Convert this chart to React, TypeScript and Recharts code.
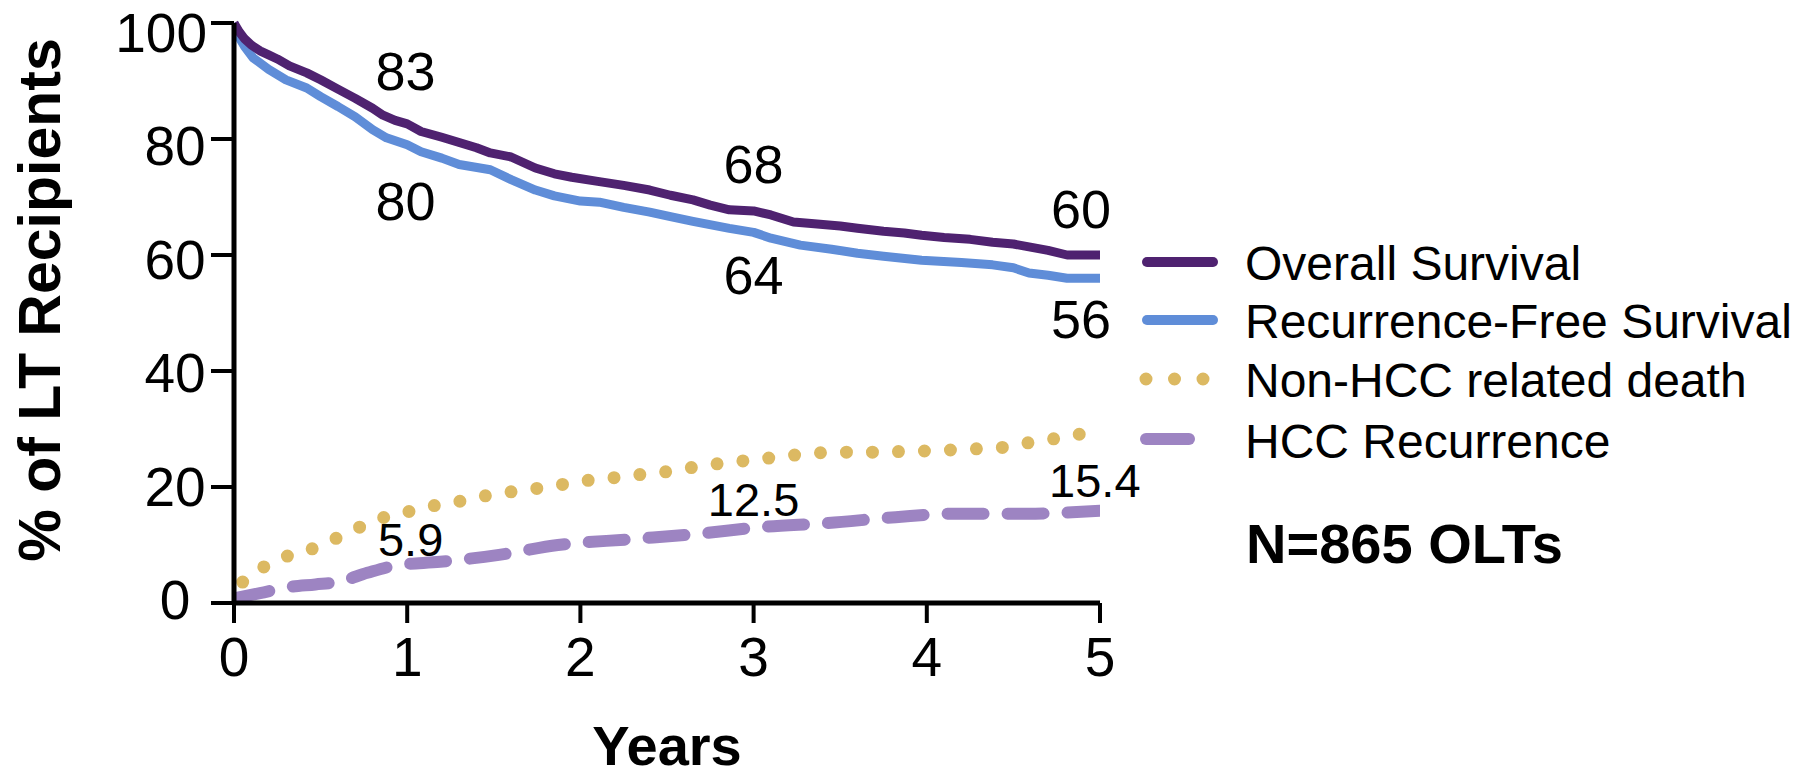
import React from 'react';
import { LineChart, Line, XAxis, YAxis, ReferenceDot } from 'recharts';

const FONT = '"Liberation Sans", Arial, Helvetica, sans-serif';

// Overall survival (Kaplan-Meier)
const osYears = [0, 0.03, 0.06, 0.1, 0.15, 0.2, 0.25, 0.32, 0.42, 0.5, 0.6, 0.7, 0.8, 0.86, 0.93, 1.0, 1.08, 1.2, 1.3, 1.4, 1.48, 1.6, 1.74, 1.85, 1.95, 2.1, 2.25, 2.4, 2.52, 2.65, 2.75, 2.86, 3.0, 3.1, 3.23, 3.35, 3.5, 3.6, 3.75, 3.87, 3.97, 4.1, 4.25, 4.38, 4.5, 4.59, 4.7, 4.81, 5.0];
const osValues = [100, 98.5, 97.3, 96.2, 95.2, 94.5, 93.8, 92.6, 91.4, 90.2, 88.6, 87.0, 85.3, 84.1, 83.2, 82.6, 81.3, 80.3, 79.4, 78.5, 77.6, 76.9, 75.0, 74.0, 73.4, 72.7, 72.0, 71.2, 70.3, 69.5, 68.6, 67.8, 67.6, 66.9, 65.7, 65.4, 65.0, 64.6, 64.1, 63.8, 63.4, 63.0, 62.7, 62.2, 61.9, 61.4, 60.8, 60.0, 60.0];

// Recurrence-free survival
const rfsYears = [0, 0.03, 0.06, 0.11, 0.2, 0.3, 0.42, 0.5, 0.6, 0.7, 0.8, 0.88, 1.0, 1.08, 1.2, 1.3, 1.48, 1.6, 1.74, 1.85, 2.0, 2.11, 2.25, 2.4, 2.52, 2.65, 2.86, 3.0, 3.1, 3.27, 3.45, 3.6, 3.75, 3.97, 4.2, 4.38, 4.5, 4.59, 4.7, 4.81, 5.0];
const rfsValues = [100, 97.5, 96.0, 94.0, 92.0, 90.2, 88.8, 87.3, 85.6, 83.8, 81.6, 80.2, 79.0, 77.8, 76.7, 75.6, 74.7, 73.0, 71.2, 70.2, 69.3, 69.1, 68.2, 67.4, 66.6, 65.8, 64.6, 63.9, 62.9, 61.7, 61.0, 60.3, 59.8, 59.1, 58.7, 58.3, 57.8, 56.9, 56.5, 56.0, 56.0];

// Non-HCC related death (cumulative incidence)
const deathYears = [0.05, 0.16, 0.28, 0.4, 0.53, 0.64, 0.75, 0.87, 1.0, 1.14, 1.28, 1.42, 1.56, 1.71, 1.85, 2.0, 2.14, 2.29, 2.44, 2.59, 2.74, 2.88, 3.03, 3.18, 3.33, 3.5, 3.65, 3.82, 3.98, 4.15, 4.3, 4.46, 4.6, 4.75, 4.9];
const deathValues = [3.6, 6.0, 7.8, 8.8, 10.3, 11.9, 13.4, 14.8, 15.7, 16.7, 17.4, 18.3, 19.0, 19.6, 20.2, 21.0, 21.4, 22.0, 22.4, 23.1, 23.8, 24.3, 24.8, 25.3, 25.8, 26.0, 26.0, 26.1, 26.2, 26.4, 26.6, 26.9, 27.7, 28.4, 29.2];

// HCC recurrence (cumulative incidence)
const hccYears = [0, 0.15, 0.33, 0.47, 0.61, 0.77, 0.94, 1.19, 1.53, 1.87, 2.29, 2.67, 3.05, 3.43, 3.82, 4.15, 4.58, 5.0];
const hccValues = [0.8, 1.7, 2.8, 3.2, 3.7, 5.2, 6.5, 7.1, 8.3, 10.0, 11.0, 11.9, 13.1, 13.8, 14.8, 15.4, 15.4, 15.9];

const xTicks = [0, 1, 2, 3, 4, 5];
const yTicks = [0, 20, 40, 60, 80, 100];

// value labels written on the curves
const survivalNotes = ['83', '80', '68', '64', '60', '56'];
const survivalNoteYears = [0.99, 0.99, 3.0, 3.0, 4.89, 4.89];
const survivalNoteValues = [91.7, 69.3, 75.7, 56.6, 67.9, 49.0];
const recurrenceNotes = ['5.9', '12.5', '15.4'];
const recurrenceNoteYears = [1.02, 3.0, 4.97];
const recurrenceNoteValues = [10.9, 17.8, 21.2];

const seriesNames = ['Overall Survival', 'Recurrence-Free Survival', 'Non-HCC related death', 'HCC Recurrence'];

const toPoints = (years: number[], values: number[]) => years.map((t, i) => ({ t, v: values[i] }));

const OS_COLOR = '#4f2270';
const RFS_COLOR = '#5f8dd8';
const DEATH_COLOR = '#dcb962';
const HCC_COLOR = '#9d84c2';

// tick labels in the original sit slightly off their ticks (tighter spacing)
const YTick = (props: any) => {
  const { x, y, payload } = props;
  const wide = payload.value >= 100;
  const shift = 9 - ((100 - payload.value) / 20) * 2.6;
  return (
    <text
      x={wide ? x : x - 32}
      y={y + 20 + shift}
      textAnchor={wide ? 'end' : 'middle'}
      fill="#000"
      fontSize={55}
      fontFamily={FONT}
    >
      {payload.value}
    </text>
  );
};

const YTitle = (props: any) => {
  const { viewBox } = props;
  const cy = viewBox.y + viewBox.height / 2 - 13;
  return (
    <text
      transform={`translate(60, ${cy}) rotate(-90)`}
      textAnchor="middle"
      fill="#000"
      fontSize={59}
      fontWeight={700}
      fontFamily={FONT}
    >
      % of LT Recipients
    </text>
  );
};

const Legend = () => (
  <svg width={1820} height={777} style={{ position: 'absolute', left: 0, top: 0, pointerEvents: 'none' }}>
    <line x1={1147} y1={262} x2={1213} y2={262} stroke={OS_COLOR} strokeWidth={10} strokeLinecap="round" />
    <text x={1245} y={280} fontSize={48} fontFamily={FONT} fill="#000">{seriesNames[0]}</text>

    <line x1={1147} y1={320} x2={1213} y2={320} stroke={RFS_COLOR} strokeWidth={10} strokeLinecap="round" />
    <text x={1245} y={338} fontSize={48} fontFamily={FONT} fill="#000">{seriesNames[1]}</text>

    <line x1={1146} y1={379} x2={1204} y2={379} stroke={DEATH_COLOR} strokeWidth={13} strokeLinecap="round" strokeDasharray="0 28.5" />
    <text x={1245} y={397} fontSize={48} fontFamily={FONT} fill="#000">{seriesNames[2]}</text>

    <line x1={1146} y1={439} x2={1189} y2={439} stroke={HCC_COLOR} strokeWidth={12} strokeLinecap="round" />
    <text x={1245} y={458} fontSize={48} fontFamily={FONT} fill="#000">{seriesNames[3]}</text>

    <text x={1246} y={563} fontSize={56} fontWeight={700} fontFamily={FONT} fill="#000">N=865 OLTs</text>
  </svg>
);

const App: React.FC = () => {
  return (
    <div style={{ position: 'absolute', left: 0, top: 0, width: 1820, height: 777, background: '#fff' }}>
      <LineChart width={1820} height={777} margin={{ top: 23, right: 720, bottom: 0, left: 0 }}>
        <XAxis
          type="number"
          dataKey="t"
          domain={[0, 5]}
          ticks={xTicks}
          interval={0}
          allowDataOverflow
          height={174}
          tickSize={20}
          tickMargin={14}
          axisLine={{ stroke: '#000', strokeWidth: 5 }}
          tickLine={{ stroke: '#000', strokeWidth: 4 }}
          tick={{ fill: '#000', fontSize: 55, fontFamily: FONT }}
          label={{ value: 'Years', position: 'insideBottom', offset: 12, fill: '#000', fontSize: 56, fontWeight: 700, fontFamily: FONT }}
        />
        <YAxis
          type="number"
          domain={[0, 100]}
          ticks={yTicks}
          interval={0}
          width={234}
          tickSize={23}
          tickMargin={4}
          axisLine={{ stroke: '#000', strokeWidth: 5 }}
          tickLine={{ stroke: '#000', strokeWidth: 4 }}
          tick={<YTick />}
          label={{ content: <YTitle /> }}
        />
        <Line
          data={toPoints(deathYears, deathValues)}
          dataKey="v"
          name={seriesNames[2]}
          type="monotone"
          stroke={DEATH_COLOR}
          strokeWidth={13}
          strokeLinecap="round"
          strokeDasharray="0 26"
          dot={false}
          activeDot={false}
          isAnimationActive={false}
        />
        <Line
          data={toPoints(hccYears, hccValues)}
          dataKey="v"
          name={seriesNames[3]}
          type="monotone"
          stroke={HCC_COLOR}
          strokeWidth={12}
          strokeLinecap="round"
          strokeDasharray="36 24"
          dot={false}
          activeDot={false}
          isAnimationActive={false}
        />
        <Line
          data={toPoints(rfsYears, rfsValues)}
          dataKey="v"
          name={seriesNames[1]}
          type="linear"
          stroke={RFS_COLOR}
          strokeWidth={9}
          strokeLinejoin="round"
          dot={false}
          activeDot={false}
          isAnimationActive={false}
        />
        <Line
          data={toPoints(osYears, osValues)}
          dataKey="v"
          name={seriesNames[0]}
          type="linear"
          stroke={OS_COLOR}
          strokeWidth={9}
          strokeLinejoin="round"
          dot={false}
          activeDot={false}
          isAnimationActive={false}
        />
        {survivalNotes.map((txt, i) => (
          <ReferenceDot
            key={'s' + txt}
            x={survivalNoteYears[i]}
            y={survivalNoteValues[i]}
            r={0}
            fill="none"
            stroke="none"
            ifOverflow="visible"
            label={{ value: txt, position: 'center', fill: '#000', fontSize: 54, fontFamily: FONT }}
          />
        ))}
        {recurrenceNotes.map((txt, i) => (
          <ReferenceDot
            key={'r' + txt}
            x={recurrenceNoteYears[i]}
            y={recurrenceNoteValues[i]}
            r={0}
            fill="none"
            stroke="none"
            ifOverflow="visible"
            label={{ value: txt, position: 'center', fill: '#000', fontSize: 47, fontFamily: FONT }}
          />
        ))}
      </LineChart>
      <Legend />
    </div>
  );
};

export default App;
